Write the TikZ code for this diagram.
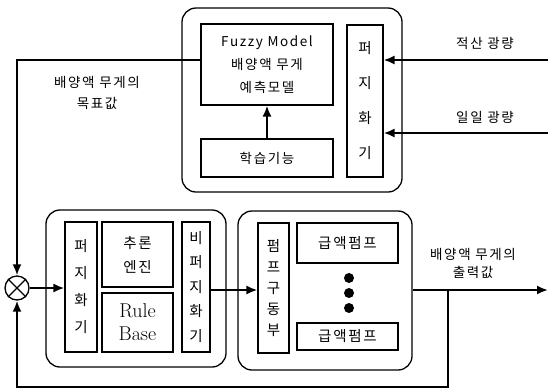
\documentclass[tikz,border=0pt]{standalone}
\usepackage{fontspec}
\newfontfamily\kr[LetterSpace=12]{Noto Sans CJK KR}
\usetikzlibrary{arrows.meta}
\begin{document}
\begin{tikzpicture}[x=1pt,y=-1pt,
  box/.style={draw, line width=1.1pt, inner sep=0pt, anchor=center, align=center},
  outer/.style={draw, line width=1.3pt, rounded corners=14pt, inner sep=0pt},
  conn/.style={line width=2pt, -{Latex[length=11pt,width=9pt]}},
  kt/.style={font=\kr\fontsize{13.5}{23}\selectfont, align=center},
  dot/.style={circle, fill, minimum size=10pt, inner sep=0pt},
]
\useasboundingbox (0,0) rectangle (548,389);
% outer rounded boxes
\node[outer, minimum width=220pt, minimum height=184pt] (topbox) at (292,100) {};
\node[outer, minimum width=180pt, minimum height=157pt] (ctrl) at (136,288.5) {};
\node[outer, minimum width=174pt, minimum height=159pt] (pumpbox) at (325,290.5) {};
% top group
\node[box, kt, minimum width=132pt, minimum height=81pt] (model) at (267,64.5) {Fuzzy Model\\배양액 무게\\예측모델};
\node[box, kt, minimum width=132pt, minimum height=38pt] (learn) at (267,158) {학습기능};
\node[box, minimum width=36pt, minimum height=152pt, font=\kr\fontsize{14.5}{35}\selectfont] (fz1) at (365,101) {퍼\\지\\화\\기};
% controller group
\node[box, minimum width=32pt, minimum height=130pt, font=\kr\fontsize{14.5}{27}\selectfont] (fz2) at (81,287) {퍼\\지\\화\\기};
\node[box, minimum width=71pt, minimum height=65pt, font=\kr\fontsize{14.5}{24}\selectfont] (infer) at (137.5,254.5) {추론\\엔진};
\node[box, minimum width=71pt, minimum height=59pt, font=\fontsize{20}{23}\selectfont] (rule) at (137.5,322.5) {Rule\\Base};
\node[box, minimum width=28pt, minimum height=130pt, font=\kr\fontsize{14.5}{24.5}\selectfont] (defz) at (196,287) {비\\퍼\\지\\화\\기};
% pump group
\node[box, minimum width=31pt, minimum height=130pt, font=\kr\fontsize{14.5}{21}\selectfont] (drv) at (273.5,288) {펌\\프\\구\\동\\부};
\node[box, font=\kr\fontsize{14.5}{20}\selectfont, minimum width=101pt, minimum height=40pt] (pump1) at (347.5,243) {급액펌프};
\node[box, font=\kr\fontsize{14.5}{20}\selectfont, minimum width=101pt, minimum height=27pt] (pump2) at (347.5,336.5) {급액펌프};
\node[dot] (d1) at (349,278) {};
\node[dot] (d2) at (349,293) {};
\node[dot] (d3) at (349,308) {};
% summing junction
\node[draw, circle, line width=1.3pt, minimum size=24pt, inner sep=0pt] (sum) at (17,288) {};
\draw[line width=1.3pt] (sum.north west) -- (sum.south east) (sum.north east) -- (sum.south west);
% labels
\node[kt] (lin1) at (485,43) {적산 광량};
\node[kt] (lin2) at (485,117) {일일 광량};
\node[kt, font=\kr\fontsize{13.5}{21}\selectfont] (ltarget) at (97,93) {배양액 무게의\\목표값};
\node[kt, font=\kr\fontsize{13.5}{18}\selectfont] (lout) at (473,263) {배양액 무게의\\출력값};
% coordinates
\coordinate (in1) at (548,60);
\coordinate (in2) at (548,133);
\coordinate (tl) at (17,60);
\coordinate (out) at (548,290);
\coordinate (br1) at (448,290);
\coordinate (br2) at (448,387);
\coordinate (bl) at (17,387);
% connectors
\draw[conn] (in1) -- (fz1.east |- in1);
\draw[conn] (in2) -- (fz1.east |- in2);
\draw[conn] (learn.north) -- (model.south);
\draw[conn] (model.west |- tl) -- (tl) -- (sum.north);
\draw[conn] (sum.east) -- (fz2.west |- sum.east);
\draw[conn] (defz.east |- 0,290) -- (drv.west |- 0,290);
\draw[conn] (pumpbox.east |- out) -- (out);
\draw[conn] (br1) -- (br2) -- (bl) -- (sum.south);
\end{tikzpicture}
\end{document}
